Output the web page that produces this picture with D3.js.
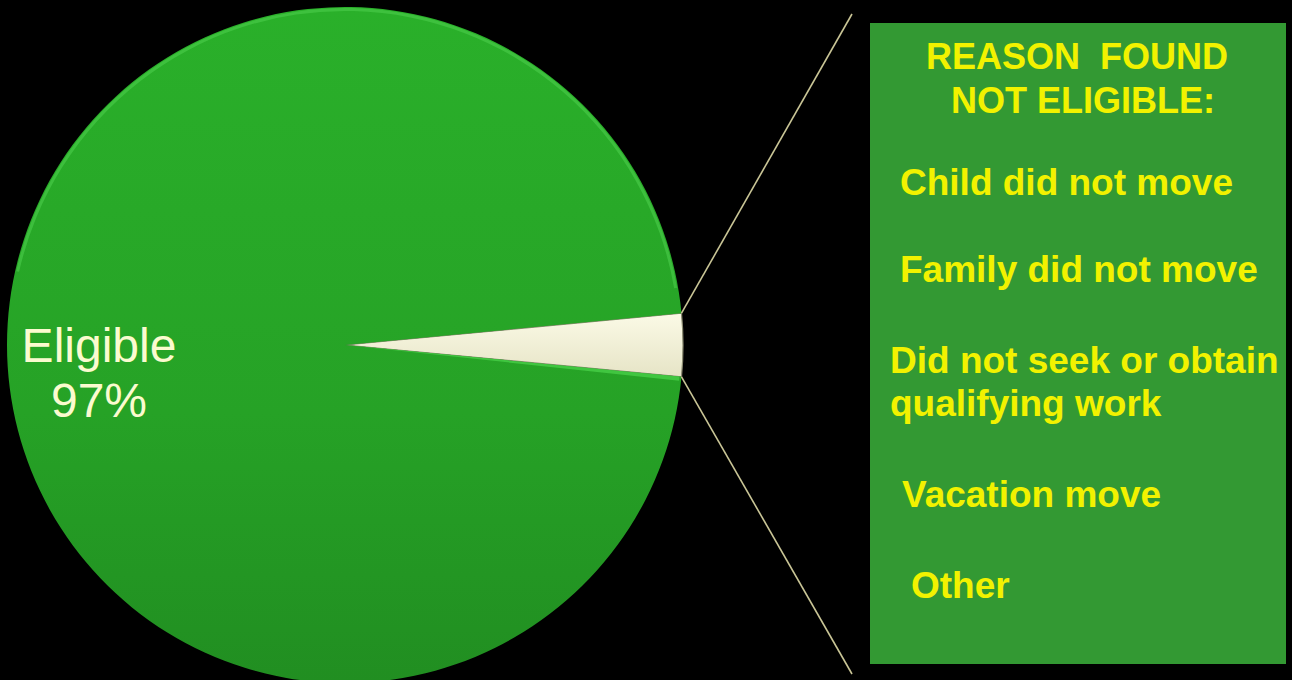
<!DOCTYPE html>
<html>
<head>
<meta charset="utf-8">
<script src="https://cdn.jsdelivr.net/npm/d3@7"></script>
<style>
  html, body { margin: 0; padding: 0; background: #000; }
  svg { display: block; }
</style>
</head>
<body>
<script>
// Data
var sliceNames = ["Not eligible", "Eligible"];
var sliceValues = [3, 97];
var eligibleLabel = ["Eligible", "97%"];
var titleLines = ["REASON  FOUND", "NOT ELIGIBLE:"];
var reasons = [
  ["Child did not move"],
  ["Family did not move"],
  ["Did not seek or obtain", "qualifying work"],
  ["Vacation move"],
  ["Other"]
];

// Size
var width = 1292;
var height = 680;
var cx = 345, cy = 345, radius = 338;

var svg = d3.select('body').append('svg')
  .attr('width', width)
  .attr('height', height);

svg.append('rect')
  .attr('width', width)
  .attr('height', height)
  .attr('fill', '#000');

var defs = svg.append('defs');

var greenGrad = defs.append('linearGradient')
  .attr('id', 'greenGrad')
  .attr('x1', 0).attr('y1', 0).attr('x2', 0).attr('y2', 1);
greenGrad.append('stop').attr('offset', '0%').attr('stop-color', '#2ab02a');
greenGrad.append('stop').attr('offset', '60%').attr('stop-color', '#26a226');
greenGrad.append('stop').attr('offset', '100%').attr('stop-color', '#218e21');

var whiteGrad = defs.append('linearGradient')
  .attr('id', 'whiteGrad')
  .attr('x1', 0).attr('y1', 0).attr('x2', 0).attr('y2', 1);
whiteGrad.append('stop').attr('offset', '0%').attr('stop-color', '#fbfae6');
whiteGrad.append('stop').attr('offset', '100%').attr('stop-color', '#e6e4c6');

// Pie, with the small slice centred at 3 o'clock
var total = d3.sum(sliceValues);
var smallSpan = sliceValues[0] / total * 2 * Math.PI;
var start = Math.PI / 2 - smallSpan / 2;

var pie = d3.pie()
  .sort(null)
  .startAngle(start)
  .endAngle(start + 2 * Math.PI);

var arc = d3.arc()
  .innerRadius(0)
  .outerRadius(radius);

var arcs = pie(sliceValues);

var g = svg.append('g')
  .attr('transform', 'translate(' + cx + ',' + cy + ')');

g.selectAll('path.slice')
  .data(arcs)
  .enter().append('path')
  .attr('class', 'slice')
  .attr('d', arc)
  .attr('fill', function(d, i) { return i === 0 ? 'url(#whiteGrad)' : 'url(#greenGrad)'; })
  .attr('stroke', function(d, i) { return i === 0 ? '#8a8a70' : 'none'; })
  .attr('stroke-width', 1.2);

// bevel highlight along the rim of the green slice
var rim = d3.arc()
  .innerRadius(radius - 4)
  .outerRadius(radius - 1);
g.append('path')
  .attr('d', rim({ startAngle: -1.35, endAngle: 1.4 }))
  .attr('fill', '#4fd04f')
  .attr('opacity', 0.55);

// light seam below the small slice
g.append('path')
  .attr('d', d3.arc().innerRadius(0).outerRadius(radius - 2)({ startAngle: arcs[0].endAngle, endAngle: arcs[0].endAngle + 0.012 }))
  .attr('fill', '#4cd44c')
  .attr('opacity', 0.7);

// connector lines from the small slice to the box
function rimPoint(a) {
  return [cx + radius * Math.sin(a), cy - radius * Math.cos(a)];
}
var p1 = rimPoint(arcs[0].startAngle);
var p2 = rimPoint(arcs[0].endAngle);
var lineColor = '#c9c596';

svg.append('line')
  .attr('x1', p1[0]).attr('y1', p1[1])
  .attr('x2', 852).attr('y2', 14)
  .attr('stroke', lineColor).attr('stroke-width', 1.6);
svg.append('line')
  .attr('x1', p2[0]).attr('y1', p2[1])
  .attr('x2', 852).attr('y2', 674)
  .attr('stroke', lineColor).attr('stroke-width', 1.6);

// Eligible label
svg.selectAll('text.elig')
  .data(eligibleLabel)
  .enter().append('text')
  .attr('class', 'elig')
  .attr('x', 99)
  .attr('y', function(d, i) { return 362 + i * 55; })
  .attr('text-anchor', 'middle')
  .style('font-family', '"Liberation Sans", Arial, sans-serif')
  .style('font-size', '48px')
  .style('fill', '#fbfbcf')
  .text(function(d) { return d; });

// Box of reasons
svg.append('rect')
  .attr('x', 870).attr('y', 23)
  .attr('width', 416).attr('height', 641)
  .attr('fill', '#339933');

var textFont = '"Liberation Sans", Arial, sans-serif';
var yellow = '#f2f200';

svg.selectAll('text.title')
  .data(titleLines)
  .enter().append('text')
  .attr('class', 'title')
  .attr('x', function(d, i) { return i === 0 ? 1077 : 1083; })
  .attr('y', function(d, i) { return 69 + i * 44; })
  .attr('text-anchor', 'middle')
  .style('font-family', textFont)
  .style('font-weight', 'bold')
  .style('font-size', '36px')
  .style('white-space', 'pre')
  .style('fill', yellow)
  .text(function(d) { return d; });

var reasonX = [900, 900, 890, 902, 911];
var reasonY = [195, 282, 373, 507, 598];

var reasonText = svg.selectAll('text.reason')
  .data(reasons)
  .enter().append('text')
  .attr('class', 'reason')
  .attr('y', function(d, i) { return reasonY[i]; })
  .style('font-family', textFont)
  .style('font-weight', 'bold')
  .style('font-size', '37px')
  .style('fill', yellow);

reasonText.each(function(d, i) {
  d3.select(this).selectAll('tspan')
    .data(d)
    .enter().append('tspan')
    .attr('x', reasonX[i])
    .attr('dy', function(t, j) { return j === 0 ? 0 : 43; })
    .text(function(t) { return t; });
});
</script>
</body>
</html>
